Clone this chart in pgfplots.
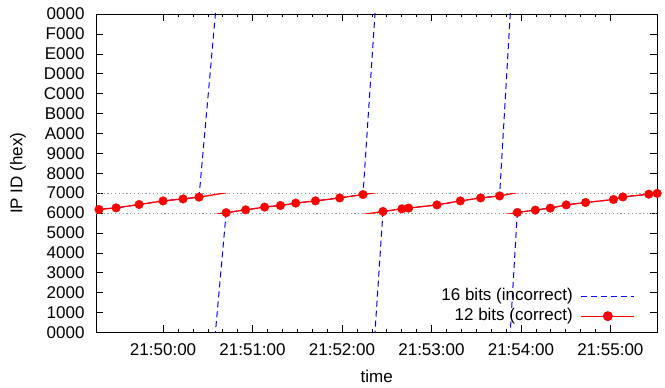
\documentclass[border=0pt]{standalone}
\usepackage{pgfplots}
\pgfplotsset{compat=1.18}
\usepackage{pgfplotstable}
\usepackage{fontspec}
\setmainfont{Liberation Sans}

\pgfplotstableread{
t id seg
-43 25313 0
-31.5 25641 0
-16.1 26337 0
0 27075 0
13.4 27484 0
24.1 27853 0
42.3 24658 1
55.4 25231 1
68.1 25805 1
78.7 26132 1
89.0 26624 1
102.2 27075 1
118.5 27689 1
134.1 28385 1
147.5 24904 2
160.2 25436 2
164.7 25600 2
183.7 26255 2
199.4 27075 2
213.0 27689 2
225.7 28099 2
237.6 24699 3
249.7 25190 3
259.7 25600 3
270.4 26255 3
283.4 26747 3
302.1 27361 3
308.4 27894 3
325.8 28467 3
331.4 28631 3
}\data

\definecolor{gpblue}{RGB}{0,0,255}
\definecolor{gpred}{RGB}{255,0,0}
\definecolor{gpgray}{RGB}{150,150,150}
\tikzset{myfont/.style={font=\fontsize{17bp}{20bp}\selectfont}}
\tikzset{bluedash/.style={color=gpblue, line width=1bp, dash pattern=on 6bp off 4bp}}

\begin{document}
\begin{tikzpicture}
\begin{axis}[
  name=main,
  scale only axis,
  width=561.3bp, height=318.5bp,
  at={(0,0)}, anchor=south west,
  xmin=-45, xmax=331.5,
  ymin=0, ymax=65536,
  scaled y ticks=false,
  xtick={0,60,120,180,240,300},
  xticklabels={21:50:00,21:51:00,21:52:00,21:53:00,21:54:00,21:55:00},
  minor x tick num=5,
  ytick={0,4096,8192,12288,16384,20480,24576,28672,32768,36864,40960,45056,49152,53248,57344,61440,65536},
  yticklabels={0000,1000,2000,3000,4000,5000,6000,7000,8000,9000,A000,B000,C000,D000,E000,F000,0000},
  tick align=inside,
  major tick length=7bp,
  minor tick length=3.5bp,
  tick style={black, line width=0.6pt},
  axis line style={black, line width=0.8pt},
  ticklabel style={myfont},
  yticklabel style={xshift=-8bp},
  xticklabel style={yshift=-7.5bp},
  xlabel={time},
  ylabel={IP ID (hex)},
  xlabel style={myfont, at={(axis description cs:0.5,0)}, anchor=base, yshift=-50.5bp},
  ylabel style={myfont, at={(axis description cs:-0.139,0.5)}, anchor=center},
  legend plot pos=right,
  legend cell align=right,
  legend image code/.code={\draw[mark repeat=2,mark phase=2,#1] plot coordinates {(0bp,0bp) (26.5bp,0bp) (53bp,0bp)};},
  legend style={draw=none, fill=none, myfont,
    at={(rel axis cs:0.966,0.013)}, anchor=south east,
    nodes={text height=12bp, text depth=4bp, inner sep=2bp},
    row sep=0bp, column sep=6bp},
]
\addlegendimage{bluedash}
\addlegendentry{16 bits (incorrect)}
\addlegendimage{gpred, line width=1.3bp, mark=*, mark size=4.3bp, mark options={solid}}
\addlegendentry{12 bits (correct)}
\addplot[bluedash, forget plot] table[x=t, y expr=\thisrow{id}+65536*\thisrow{seg}] {\data};
\addplot[bluedash, forget plot] table[x=t, y expr=\thisrow{id}+65536*(\thisrow{seg}-1)] {\data};
\addplot[bluedash, forget plot] table[x=t, y expr=\thisrow{id}+65536*(\thisrow{seg}-2)] {\data};
\addplot[bluedash, forget plot] table[x=t, y expr=\thisrow{id}+65536*(\thisrow{seg}-3)] {\data};
\addplot[gpgray, line width=0.8pt, dash pattern=on 1.2bp off 2.6bp, forget plot] coordinates {(-45,24576) (331.5,24576)};
\addplot[gpgray, line width=0.8pt, dash pattern=on 1.2bp off 2.6bp, forget plot] coordinates {(-45,28672) (331.5,28672)};
\end{axis}
\begin{axis}[
  scale only axis,
  width=561.3bp, height=19.90625bp,
  at={(0,119.4375bp)}, anchor=south west,
  xmin=-45, xmax=331.5,
  ymin=24576, ymax=28672,
  hide axis,
]
\addplot[gpred, line width=1.3bp, no marks] table[x=t, y expr=\thisrow{id}+4096*\thisrow{seg}] {\data};
\addplot[gpred, line width=1.3bp, no marks] table[x=t, y expr=\thisrow{id}+4096*(\thisrow{seg}-1)] {\data};
\addplot[gpred, line width=1.3bp, no marks] table[x=t, y expr=\thisrow{id}+4096*(\thisrow{seg}-2)] {\data};
\addplot[gpred, line width=1.3bp, no marks] table[x=t, y expr=\thisrow{id}+4096*(\thisrow{seg}-3)] {\data};
\addplot[gpred, only marks, mark=*, mark size=4.3bp] table[x=t, y=id] {\data};
\end{axis}
\pgfresetboundingbox
\path (-96bp,-55.5bp) rectangle (569bp,332.5bp);
\end{tikzpicture}
\end{document}
